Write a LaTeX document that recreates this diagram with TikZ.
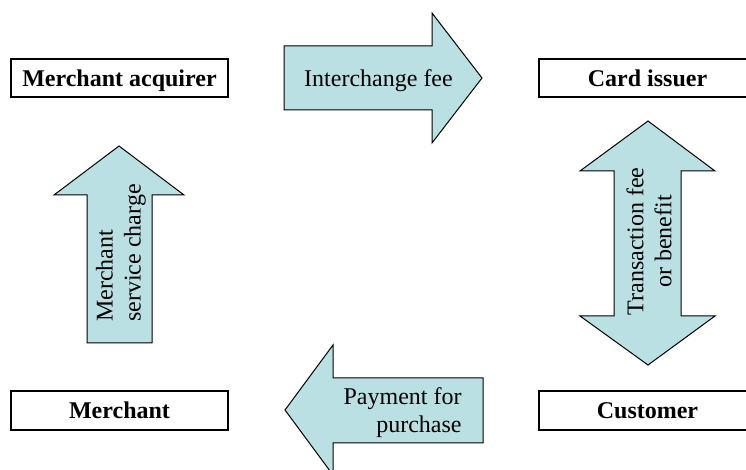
\documentclass[tikz,border=0pt]{standalone}
\usepackage{fontspec}
\setmainfont{Liberation Serif}
\definecolor{arrowfill}{RGB}{187,224,227}
\begin{document}
\begin{tikzpicture}[x=0.5pt,y=-0.5pt,
  party/.style={draw=black, line width=0.6pt, fill=white, inner sep=0pt,
    minimum width=108.5pt, text height=8.5pt, text depth=0pt,
    font=\fontsize{12}{14}\selectfont\bfseries},
  flow/.style={draw=black, line width=0.5pt, fill=arrowfill, line join=miter},
  flowtext/.style={inner sep=0pt, font=\fontsize{12}{14}\selectfont}]
\useasboundingbox (0,0) rectangle (746,470);
\clip (0,0) rectangle (746,470);
% parties
\node[party, minimum height=19pt] (ma) at (119.5,78) {Merchant acquirer};
\node[party, minimum height=19pt] (ci) at (647.5,78) {Card issuer};
\node[party, minimum height=19.5pt] (me) at (119.5,410.5) {Merchant};
\node[party, minimum height=19.5pt] (cu) at (647.5,410.5) {Customer};
% flows
\draw[flow] (284,46) -- (432,46) -- (432,13) -- (482,78) -- (432,143) -- (432,110) -- (284,110) -- cycle;
\node[flowtext, anchor=base] (ifee) at (378.5,87) {Interchange fee};
\draw[flow] (87,343) -- (87,195) -- (54,195) -- (119,146) -- (184,195) -- (152,195) -- (152,343) -- cycle;
\node[flowtext, rotate=90, align=left] (msc) at (121,253) {Merchant\\service charge};
\draw[flow] (614,171) -- (580,171) -- (648,121) -- (715,171) -- (681,171) -- (681,316) -- (715,316) -- (648,365) -- (580,316) -- (614,316) -- cycle;
\node[flowtext, rotate=90, align=center] (tfee) at (649,241.5) {Transaction fee\\or benefit};
\draw[flow] (483,378) -- (333,378) -- (333,345) -- (285,410) -- (333,475) -- (333,443) -- (483,443) -- cycle;
\node[flowtext, align=right, anchor=east] (pay) at (462,413) {Payment for\\purchase};
\end{tikzpicture}
\end{document}
